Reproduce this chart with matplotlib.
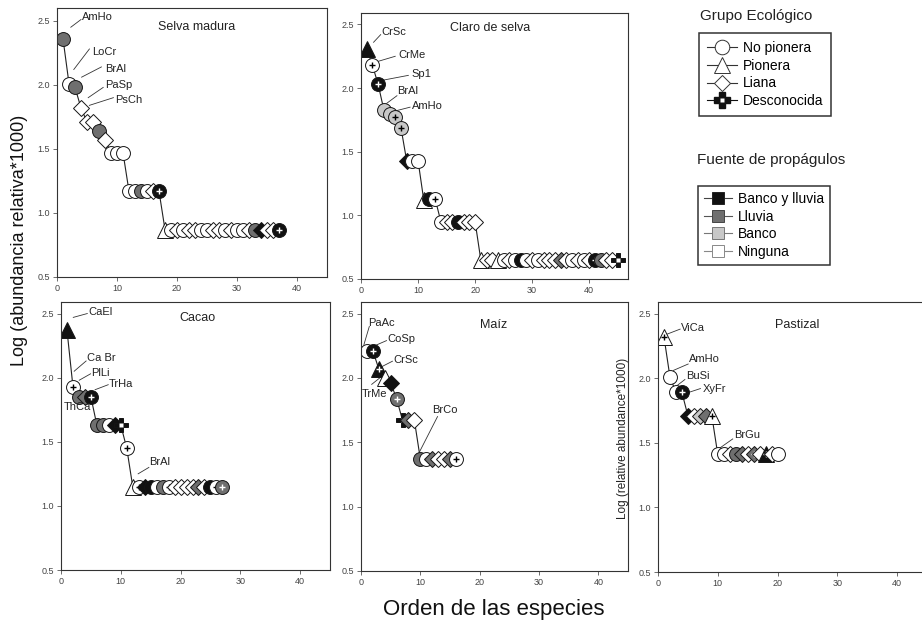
import matplotlib.pyplot as plt
from matplotlib.lines import Line2D
from matplotlib.ticker import FormatStrFormatter

plt.rcParams['font.family'] = ['Liberation Sans', 'DejaVu Sans']

# grupo ecologico: N no pionera, P pionera, L liana, D desconocida
# fuente de propagulos: B banco y lluvia, R lluvia, K banco, W ninguna
selva_vals = [2.36, 2.01, 1.98, 1.82, 1.71, 1.71, 1.64, 1.57, 1.47, 1.47,
              1.47, 1.17, 1.17, 1.17, 1.17, 1.17, 1.17, 0.87, 0.87, 0.87,
              0.87, 0.87, 0.87, 0.87, 0.87, 0.87, 0.87, 0.87, 0.87, 0.87,
              0.87, 0.87, 0.87, 0.87, 0.87, 0.87, 0.87]
selva_grp = "NNNLLLNLNNNNNNNLN" + "PNLNLLNNLLNLNNLNLLLN"
selva_src = "RWRWWWRWWWWWWRWWB" + "WWWWWWWWWWWWWWWRBWWB"
selva_plus = "00000000000000001" + "00000000000000000001"

claro_vals = [2.31, 2.18, 2.03, 1.83, 1.80, 1.77, 1.69, 1.43, 1.43, 1.43,
              1.12, 1.13, 1.13, 0.95, 0.95, 0.95, 0.95, 0.95, 0.95, 0.95,
              0.65, 0.65, 0.65, 0.65, 0.65, 0.65, 0.65, 0.65, 0.65, 0.65,
              0.65, 0.65, 0.65, 0.65, 0.65, 0.65, 0.65, 0.65, 0.65, 0.65,
              0.65, 0.65, 0.65, 0.65, 0.65]
claro_grp = "PNNNNNNLNNPNN" + "NLLNLLL" + "PLLPNLNNNLNLLLLLNLNLNNLLD"
claro_src = "BWBKKKKBWWWBW" + "WWWBWWW" + "WWWWWWWBWWWWWWRWWWWWBRWWB"
claro_plus = "0110011000001" + "0000000" + "0000000000000000001010000"

cacao_vals = [2.37, 1.93, 1.85, 1.85, 1.85, 1.63, 1.63, 1.63, 1.63, 1.63,
              1.45, 1.15, 1.15, 1.15, 1.15, 1.15, 1.15, 1.15, 1.15, 1.15,
              1.15, 1.15, 1.15, 1.15, 1.15, 1.15, 1.15]
cacao_grp = "PNNLNNNNLDN" + "PNLNNNNLLLLLLNNN"
cacao_src = "BWRRBRRWBBW" + "WWBBWRWWWWWRWBWR"
cacao_plus = "01001000001" + "0100001000000011"

maiz_vals = [2.21, 2.21, 2.07, 2.00, 1.96, 1.84, 1.67, 1.67, 1.67, 1.37,
             1.37, 1.37, 1.37, 1.37, 1.37, 1.37]
maiz_grp = "NNPPLNDLLNNLLLLN"
maiz_src = "WBBWBRBRWRWRWWRW"
maiz_plus = "0110010000000001"

pasto_vals = [2.32, 2.01, 1.89, 1.89, 1.71, 1.71, 1.71, 1.71, 1.71, 1.41,
              1.41, 1.41, 1.41, 1.41, 1.41, 1.41, 1.41, 1.41, 1.41, 1.41]
pasto_grp = "PNNNLLLLPNNLNLLLLPLN"
pasto_src = "WWWBBWKRWWWWRRWRWBWW"
pasto_plus = "10010000100000010100"

# etiquetas: nombre, posicion del texto, linea guia
selva_labels = [("AmHo", 4.2, 2.53, 2.3, 2.45, 4.0, 2.51),
                ("LoCr", 5.8, 2.26, 2.8, 2.12, 5.4, 2.28),
                ("BrAl", 8.0, 2.12, 4.1, 2.06, 7.4, 2.14),
                ("PaSp", 8.0, 2.00, 5.2, 1.90, 7.7, 1.98),
                ("PsCh", 9.7, 1.88, 5.4, 1.84, 9.4, 1.90)]
claro_labels = [("CrSc", 3.6, 2.44, 2.2, 2.36, 3.45, 2.42),
                ("CrMe", 6.5, 2.26, 3.0, 2.21, 6.0, 2.25),
                ("Sp1", 8.9, 2.11, 3.6, 2.06, 8.3, 2.10),
                ("BrAl", 6.4, 1.98, 4.5, 1.88, 6.3, 1.94),
                ("AmHo", 8.9, 1.86, 5.1, 1.81, 8.6, 1.85)]
cacao_labels = [("CaEl", 4.55, 2.51, 2.05, 2.47, 4.4, 2.50),
                ("Ca Br", 4.3, 2.155, 2.2, 2.05, 4.2, 2.13),
                ("PlLi", 5.1, 2.04, 3.05, 1.98, 4.95, 2.03),
                ("TrHa", 8.05, 1.95, 5.7, 1.906, 7.9, 1.945),
                ("ThCa", 0.4, 1.77, None, None, None, None),
                ("BrAl", 14.8, 1.34, 12.9, 1.25, 14.7, 1.30)]
maiz_labels = [("PaAc", 1.2, 2.43, 0.5, 2.26, 1.4, 2.40),
               ("CoSp", 4.4, 2.30, 2.05, 2.245, 4.3, 2.29),
               ("CrSc", 5.5, 2.136, 3.05, 2.077, 5.3, 2.13),
               ("TrMe", 0.1, 1.877, 1.8, 1.95, 3.7, 2.02),
               ("BrCo", 12.05, 1.748, 9.8, 1.42, 12.9, 1.70)]
pasto_labels = [("ViCa", 3.8, 2.39, 1.45, 2.34, 3.7, 2.38),
                ("AmHo", 5.2, 2.15, 2.55, 2.06, 5.05, 2.11),
                ("BuSi", 4.67, 2.015, 3.1, 1.94, 4.5, 1.99),
                ("XyFr", 7.55, 1.92, 4.8, 1.885, 7.1, 1.92),
                ("BrGu", 12.7, 1.56, 10.05, 1.45, 12.5, 1.53)]

MARKERS = {'N': 'o', 'P': '^', 'L': 'D', 'D': 'P'}
SIZES = {'N': 10, 'P': 11, 'L': 8.5, 'D': 10.5}
FILLS = {'B': '#111111', 'R': '#6f6f6f', 'K': '#c8c8c8', 'W': 'white'}
EDGE = '#151515'


def drawPanel(ax, vals, grp, src, plus, labels, title, tpos, xmax, ymax):
    ranks = list(range(1, len(vals) + 1))
    ax.plot(ranks, vals, color='#222222', lw=0.8, zorder=1)

    for i, (r, v) in enumerate(zip(ranks, vals)):
        z = 2 + i * 0.01
        ax.plot(r, v, marker=MARKERS[grp[i]], ms=SIZES[grp[i]],
                mfc=FILLS[src[i]], mec=EDGE, mew=0.7, zorder=z)
        if grp[i] == 'D':
            ax.plot(r, v, marker='s', ms=2.6, mfc='white', mec='none', zorder=z + 0.001)
        if plus[i] == '1':
            pc = 'white' if src[i] in 'BR' else 'black'
            ax.plot(r, v, marker='+', ms=5, mew=1.0, color=pc, zorder=z + 0.002)

    for name, tx, ty, x0, y0, x1, y1 in labels:
        ax.text(tx, ty, name, fontsize=8, ha='left', va='center', color='#222222', zorder=5)
        if x0 is not None:
            ax.plot([x0, x1], [y0, y1], color='#333333', lw=0.6, zorder=1.5)

    ax.text(tpos[0], tpos[1], title, transform=ax.transAxes, fontsize=9,
            ha='center', va='center', color='#222222')

    ax.set_xlim(0, xmax)
    ax.set_ylim(0.5, ymax)
    ax.set_xticks([0, 10, 20, 30, 40])
    ax.set_yticks([0.5, 1.0, 1.5, 2.0, 2.5])
    ax.yaxis.set_major_formatter(FormatStrFormatter('%.1f'))
    ax.tick_params(labelsize=6.5, labelcolor='#444444', color='#555555',
                   length=3, width=0.6, pad=2, direction='out')
    for sp in ax.spines.values():
        sp.set_color('#333333')
        sp.set_linewidth(0.8)


W, H = 922, 627
fig = plt.figure(figsize=(W / 100, H / 100), dpi=100)


def addAxes(left, top, right, bottom):
    return fig.add_axes([left / W, 1 - bottom / H, (right - left) / W, (bottom - top) / H])


ax1 = addAxes(57, 8, 327, 277)
ax2 = addAxes(361, 13, 628, 279)
ax3 = addAxes(61, 302, 330, 570)
ax4 = addAxes(361, 302, 628, 571)
ax5 = addAxes(658, 302, 927, 572)

drawPanel(ax1, selva_vals, selva_grp, selva_src, selva_plus, selva_labels,
          "Selva madura", (0.517, 0.93), 45, 2.6)
drawPanel(ax2, claro_vals, claro_grp, claro_src, claro_plus, claro_labels,
          "Claro de selva", (0.482, 0.942), 46.8, 2.59)
drawPanel(ax3, cacao_vals, cacao_grp, cacao_src, cacao_plus, cacao_labels,
          "Cacao", (0.508, 0.941), 45, 2.59)
drawPanel(ax4, maiz_vals, maiz_grp, maiz_src, maiz_plus, maiz_labels,
          "Maíz", (0.497, 0.914), 45, 2.59)
drawPanel(ax5, pasto_vals, pasto_grp, pasto_src, pasto_plus, pasto_labels,
          "Pastizal", (0.518, 0.915), 45, 2.59)

fig.text(20 / W, 1 - 240 / H, "Log (abundancia relativa*1000)", rotation=90,
         fontsize=13, ha='center', va='center', color='#111111')
fig.text(494 / W, 1 - 610 / H, "Orden de las especies", fontsize=16,
         ha='center', va='center', color='#111111')
fig.text(623 / W, 1 - 438 / H, "Log (relative abundance*1000)", rotation=90,
         fontsize=8.5, ha='center', va='center', color='#222222')

# leyendas
grp_names = ["No pionera", "Pionera", "Liana", "Desconocida"]
grp_handles = [
    Line2D([0], [0], color='#333333', lw=0.8, marker='o', ms=10.5, mfc='white', mec='#333333', mew=0.7),
    Line2D([0], [0], color='#333333', lw=0.8, marker='^', ms=11, mfc='white', mec='#333333', mew=0.7),
    Line2D([0], [0], color='#333333', lw=0.8, marker='D', ms=8.5, mfc='white', mec='#333333', mew=0.7),
    (Line2D([0], [0], color='#111111', lw=0.8, marker='P', ms=11, mfc='#111111', mec='#111111'),
     Line2D([0], [0], ls='none', marker='s', ms=3, mfc='white', mec='none')),
]
src_names = ["Banco y lluvia", "Lluvia", "Banco", "Ninguna"]
src_handles = [
    Line2D([0], [0], color='#444444', lw=0.8, marker='s', ms=9, mfc=FILLS['B'], mec='#222222', mew=0.7),
    Line2D([0], [0], color='#555555', lw=0.8, marker='s', ms=9, mfc=FILLS['R'], mec='#444444', mew=0.7),
    Line2D([0], [0], color='#777777', lw=0.8, marker='s', ms=9, mfc=FILLS['K'], mec='#777777', mew=0.7),
    Line2D([0], [0], color='#888888', lw=0.8, marker='s', ms=9, mfc='white', mec='#888888', mew=0.7),
]

leg1 = fig.legend(grp_handles, grp_names, loc='upper left',
                  bbox_to_anchor=(699 / W, 1 - 33 / H), fontsize=10,
                  fancybox=False, edgecolor='#333333', framealpha=1,
                  handlelength=2.2, handletextpad=0.4, labelspacing=0.28,
                  borderpad=0.55, borderaxespad=0)
leg1.get_frame().set_linewidth(1.1)
leg2 = fig.legend(src_handles, src_names, loc='upper left',
                  bbox_to_anchor=(698 / W, 1 - 186 / H), fontsize=10,
                  fancybox=False, edgecolor='#333333', framealpha=1,
                  handlelength=2.0, handletextpad=0.4, labelspacing=0.25,
                  borderpad=0.45, borderaxespad=0)
leg2.get_frame().set_linewidth(1.1)

fig.text(700 / W, 1 - 16 / H, "Grupo Ecológico", fontsize=11, ha='left', va='center', color='#222222')
fig.text(697 / W, 1 - 160 / H, "Fuente de propágulos", fontsize=11, ha='left', va='center', color='#222222')

fig.savefig("out.png", dpi=100)
